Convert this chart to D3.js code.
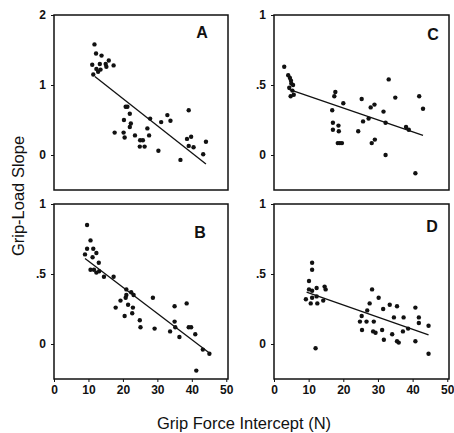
<!DOCTYPE html>
<html>
<head>
<meta charset="utf-8">
<style>
  body { margin: 0; background: #fff; }
  svg { font-family: "Liberation Sans", Arial, sans-serif; }
</style>
</head>
<body>
<svg width="454" height="433"></svg>
<script src="https://d3js.org/d3.v7.min.js"></script>
<script>

// points: [grip force intercept (N), grip-load slope]
var pointsA = [[11.75,1.58],[12.2,1.45],[13.8,1.42],[11.1,1.29],[13.3,1.30],[15,1.30],[15.9,1.35],
  [17.3,1.28],[15.2,1.26],[12.3,1.23],[11.4,1.15],[12.8,1.19],[13.5,1.22],
  [20.8,0.69],[21.3,0.69],[22,0.59],[20.3,0.50],[22.3,0.45],[22,0.40],[17.6,0.32],[20.2,0.32],
  [20.5,0.25],[23.5,0.28],[25,0.21],[25.8,0.21],[24.9,0.12],[26.3,0.12],[27.1,0.38],[27.6,0.28],
  [27.9,0.52],[30.3,0.06],[31.1,0.47],[32.9,0.57],[33.8,0.49],[36.7,-0.07],[39.1,0.64],[38.6,0.23],
  [39.8,0.26],[39.1,0.13],[40.5,0.11],[43.3,0.01],[44.1,0.19]];
var pointsB = [[9.6,0.85],[10.6,0.74],[9.0,0.64],[9.6,0.68],[11.4,0.68],[12.3,0.65],[11.2,0.62],
  [13,0.58],[10.6,0.53],[11.6,0.53],[12.3,0.51],[13.1,0.52],[14.5,0.48],[17.3,0.48],[17.9,0.26],
  [19.3,0.31],[20.5,0.20],[20.8,0.33],[21,0.35],[21,0.39],[21.5,0.28],[22.4,0.37],[23.1,0.35],
  [22.9,0.26],[22.7,0.22],[24.9,0.17],[25.1,0.12],[28.7,0.33],[29.2,0.11],[33.7,0.09],[35,0.27],
  [35,0.16],[35.2,0.12],[36.4,0.05],[38.5,0.29],[39.1,0.12],[39.8,0.12],[41,0.07],[41.3,-0.19],
  [43.2,-0.04],[45.1,-0.07]];
var pointsC = [[2.95,0.63],[4.1,0.57],[4.6,0.55],[4.9,0.53],[5.0,0.51],[5.5,0.50],[4.4,0.48],
  [5.3,0.46],[4.8,0.42],[5.7,0.43],[16.8,0.32],[17.7,0.45],[17.4,0.42],[20,0.37],[17,0.23],
  [17,0.18],[18.6,0.21],[18.7,0.17],[18.4,0.085],[19.0,0.085],[19.6,0.085],[24.3,0.17],[25.3,0.40],
  [25.7,0.24],[27.3,0.26],[27.9,0.34],[29,0.36],[28.2,0.085],[29.1,0.11],[31.6,0.31],[32.2,0.23],
  [32.2,0.0],[33.1,0.54],[35,0.41],[38.1,0.20],[38.9,0.18],[40.8,-0.13],[41.9,0.42],[43,0.33]];
var pointsD = [[11,0.58],[11,0.53],[10.1,0.45],[9.2,0.32],[10.1,0.39],[11,0.38],[10.6,0.29],
  [11,0.33],[12.3,0.40],[12.3,0.34],[12.5,0.29],[14.2,0.31],[14.6,0.41],[14.9,0.39],[12,-0.03],
  [24.8,0.16],[25.3,0.20],[25.4,0.10],[26.7,0.16],[26.9,0.24],[27.6,0.29],[28.3,0.39],[28.6,0.09],
  [28.8,0.16],[29.3,0.08],[30.2,0.33],[31.2,0.10],[31.5,0.25],[31.7,0.03],[33.4,0.28],[34.1,0.07],
  [34.6,0.19],[35.5,0.27],[35.5,0.02],[36,0.01],[37.4,0.19],[37.2,0.09],[38.7,0.11],[40.8,0.26],
  [40.8,0.02],[41.8,0.19],[41.8,0.15],[44.6,0.13],[44.6,-0.07]];

// regression lines: [x0, y0, x1, y1]
var fitA = [11.85, 1.12, 44.1, -0.13];
var fitB = [9.0, 0.61, 45.1, -0.065];
var fitC = [4.1, 0.47, 43, 0.14];
var fitD = [9.4, 0.37, 44.6, 0.065];

var xTicks = [0, 10, 20, 30, 40, 50];
var yTicksA = [0, 1, 2];
var yTicksOther = [0, 0.5, 1];

var svg = d3.select("svg");

var cols = [[54, 228], [274, 449]];
var rows = [[15, 190], [204, 379]];

// letter: offset from the panel's top-right corner
var panels = [
  {name: "A", pts: pointsA, fit: fitA, col: 0, row: 0, yDom: [-0.5, 2], yTicks: yTicksA, letter: [26, 23]},
  {name: "C", pts: pointsC, fit: fitC, col: 1, row: 0, yDom: [-0.25, 1], yTicks: yTicksOther, letter: [16, 25]},
  {name: "B", pts: pointsB, fit: fitB, col: 0, row: 1, yDom: [-0.25, 1], yTicks: yTicksOther, letter: [28, 34]},
  {name: "D", pts: pointsD, fit: fitD, col: 1, row: 1, yDom: [-0.25, 1], yTicks: yTicksOther, letter: [17, 28]}
];

var fmt = function (d) { return d === 0.5 ? ".5" : String(d); };

panels.forEach(function (p) {
  var c = cols[p.col], r = rows[p.row];
  var x = d3.scaleLinear().domain([0, 50.5]).range([c[0], c[1]]);
  var y = d3.scaleLinear().domain(p.yDom).range([r[1], r[0]]);

  var g = svg.append("g");

  // frame
  g.append("rect")
    .attr("x", c[0]).attr("y", r[0])
    .attr("width", c[1] - c[0]).attr("height", r[1] - r[0])
    .attr("fill", "none").attr("stroke", "#111").attr("stroke-width", 1.5);

  // y axis
  var ya = g.append("g")
    .attr("transform", "translate(" + c[0] + ",0)")
    .call(d3.axisLeft(y).tickValues(p.yTicks).tickFormat(fmt).tickSize(3).tickPadding(5));
  ya.select(".domain").remove();
  ya.selectAll("text").attr("font-size", 12).attr("font-weight", "bold").attr("fill", "#111")
    .style("font-family", "Liberation Sans, Arial, sans-serif");
  ya.selectAll("line").attr("stroke", "#111");

  // x axis only on the bottom row
  if (p.row === 1) {
    var xa = g.append("g")
      .attr("transform", "translate(0," + r[1] + ")")
      .call(d3.axisBottom(x).tickValues(xTicks).tickSize(3).tickPadding(3));
    xa.select(".domain").remove();
    xa.selectAll("text").attr("font-size", 12).attr("font-weight", "bold").attr("fill", "#111")
      .style("font-family", "Liberation Sans, Arial, sans-serif");
    xa.selectAll("line").attr("stroke", "#111");
  }

  // fit line
  g.append("line")
    .attr("x1", x(p.fit[0])).attr("y1", y(p.fit[1]))
    .attr("x2", x(p.fit[2])).attr("y2", y(p.fit[3]))
    .attr("stroke", "#111").attr("stroke-width", 1.3);

  // dots
  g.selectAll("circle").data(p.pts).enter().append("circle")
    .attr("cx", function (d) { return x(d[0]); })
    .attr("cy", function (d) { return y(d[1]); })
    .attr("r", 2.2)
    .attr("fill", "#111");

  // panel letter
  g.append("text")
    .attr("x", c[1] - p.letter[0]).attr("y", r[0] + p.letter[1])
    .attr("text-anchor", "middle")
    .attr("font-size", 16).attr("font-weight", "bold").attr("fill", "#111")
    .text(p.name);
});

// axis titles
svg.append("text")
  .attr("x", 244).attr("y", 429)
  .attr("text-anchor", "middle")
  .attr("font-size", 16.5).attr("fill", "#111")
  .text("Grip Force Intercept (N)");

svg.append("text")
  .attr("transform", "translate(24,196) rotate(-90)")
  .attr("text-anchor", "middle")
  .attr("font-size", 16.5).attr("fill", "#111")
  .text("Grip-Load Slope");

</script>
</body>
</html>
